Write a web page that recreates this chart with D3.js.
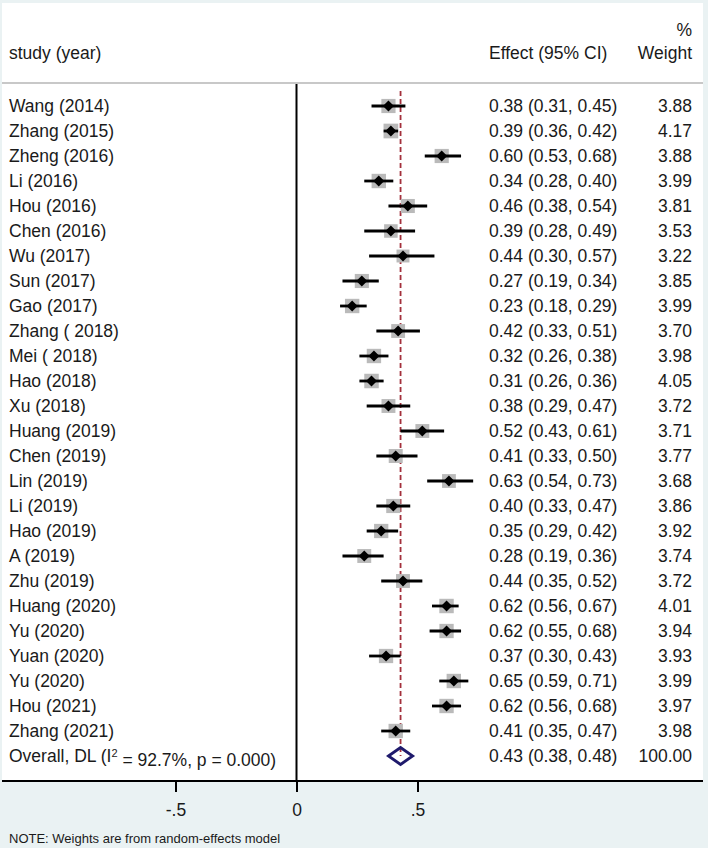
<!DOCTYPE html>
<html lang="en">

<head>
    <meta charset="UTF-8">
    <title>Forest plot</title>
    <script src="https://d3js.org/d3.v7.min.js"></script>
    <style>
        body {
            margin: 0;
            background: #eaf2f3;
        }

        svg text {
            font-family: "Liberation Sans", Arial, sans-serif;
            fill: #1a1a1a;
        }
    </style>
</head>

<body>
    <div id="chart"></div>

    <script>
        // data
        const studies = [
            "Wang (2014)", "Zhang (2015)", "Zheng (2016)", "Li (2016)", "Hou (2016)",
            "Chen (2016)", "Wu (2017)", "Sun (2017)", "Gao (2017)", "Zhang ( 2018)",
            "Mei ( 2018)", "Hao (2018)", "Xu (2018)", "Huang (2019)", "Chen (2019)",
            "Lin (2019)", "Li (2019)", "Hao (2019)", "A (2019)", "Zhu (2019)",
            "Huang (2020)", "Yu (2020)", "Yuan (2020)", "Yu (2020)", "Hou (2021)",
            "Zhang (2021)"
        ];
        const effects = [0.38, 0.39, 0.60, 0.34, 0.46, 0.39, 0.44, 0.27, 0.23, 0.42,
            0.32, 0.31, 0.38, 0.52, 0.41, 0.63, 0.40, 0.35, 0.28, 0.44,
            0.62, 0.62, 0.37, 0.65, 0.62, 0.41];
        const lower = [0.31, 0.36, 0.53, 0.28, 0.38, 0.28, 0.30, 0.19, 0.18, 0.33,
            0.26, 0.26, 0.29, 0.43, 0.33, 0.54, 0.33, 0.29, 0.19, 0.35,
            0.56, 0.55, 0.30, 0.59, 0.56, 0.35];
        const upper = [0.45, 0.42, 0.68, 0.40, 0.54, 0.49, 0.57, 0.34, 0.29, 0.51,
            0.38, 0.36, 0.47, 0.61, 0.50, 0.73, 0.47, 0.42, 0.36, 0.52,
            0.67, 0.68, 0.43, 0.71, 0.68, 0.47];
        const weights = [3.88, 4.17, 3.88, 3.99, 3.81, 3.53, 3.22, 3.85, 3.99, 3.70,
            3.98, 4.05, 3.72, 3.71, 3.77, 3.68, 3.86, 3.92, 3.74, 3.72,
            4.01, 3.94, 3.93, 3.99, 3.97, 3.98];
        const overall = { effect: 0.43, lower: 0.38, upper: 0.48, weight: 100.00, i2: "92.7%", p: "0.000" };
        const tickValues = [-0.5, 0, 0.5];
        const tickLabels = ["-.5", "0", ".5"];

        const W = 708, H = 848;
        const fs = 17.5;
        const panel = { left: 2, top: 3, right: 703, bottom: 781 };
        const colEffect = 489, colWeight = 692;

        const svg = d3.select("#chart").append("svg")
            .attr("width", W)
            .attr("height", H);

        svg.append("rect")
            .attr("width", W).attr("height", H)
            .attr("fill", "#eaf2f3");

        svg.append("rect")
            .attr("x", panel.left).attr("y", panel.top)
            .attr("width", panel.right - panel.left)
            .attr("height", panel.bottom - panel.top)
            .attr("fill", "#fff");

        // scales
        const x = d3.scaleLinear().domain([0, 0.5]).range([296.5, 417.5]);
        const y = d3.scaleLinear().domain([0, studies.length]).range([106, 756]);
        const boxSide = d3.scaleSqrt().domain([0, 4]).range([0, 14.4]);

        // header
        svg.append("line")
            .attr("x1", panel.left).attr("x2", panel.right)
            .attr("y1", 83).attr("y2", 83)
            .attr("stroke", "#c8c8c8").attr("stroke-width", 2);

        svg.append("text").attr("x", 9).attr("y", 59).style("font-size", fs + "px").text("study (year)");
        svg.append("text").attr("x", colEffect).attr("y", 59).style("font-size", fs + "px").text("Effect (95% CI)");
        svg.append("text").attr("x", colWeight).attr("y", 36).attr("text-anchor", "end").style("font-size", fs + "px").text("%");
        svg.append("text").attr("x", colWeight).attr("y", 59).attr("text-anchor", "end").style("font-size", fs + "px").text("Weight");

        // null line
        svg.append("line")
            .attr("x1", x(0)).attr("x2", x(0))
            .attr("y1", 84).attr("y2", panel.bottom)
            .attr("stroke", "#000").attr("stroke-width", 2);

        // overall effect dashed line
        svg.append("line")
            .attr("x1", x(overall.effect)).attr("x2", x(overall.effect))
            .attr("y1", y(0) - 15).attr("y2", y(studies.length))
            .attr("stroke", "#a3303c").attr("stroke-width", 1.8)
            .attr("stroke-dasharray", "5,3");

        const rows = studies.map((s, i) => ({
            study: s, effect: effects[i], lower: lower[i], upper: upper[i], weight: weights[i], i
        }));

        const g = svg.append("g");
        const row = g.selectAll(".row").data(rows).join("g")
            .attr("class", "row")
            .attr("transform", d => `translate(0,${y(d.i)})`);

        row.append("rect")
            .attr("x", d => x(d.effect) - boxSide(d.weight) / 2)
            .attr("y", d => -boxSide(d.weight) / 2)
            .attr("width", d => boxSide(d.weight))
            .attr("height", d => boxSide(d.weight))
            .attr("fill", "#bababa");

        row.append("line")
            .attr("x1", d => x(d.lower)).attr("x2", d => x(d.upper))
            .attr("stroke", "#000").attr("stroke-width", 2.8);

        row.append("path")
            .attr("d", d => {
                const cx = x(d.effect), r = 5.5;
                return `M${cx - r},0L${cx},${-r}L${cx + r},0L${cx},${r}Z`;
            })
            .attr("fill", "#000");

        const f2 = d3.format(".2f");

        row.append("text").attr("x", 9).attr("dy", "0.36em")
            .style("font-size", fs + "px").text(d => d.study);
        row.append("text").attr("x", colEffect).attr("dy", "0.36em")
            .style("font-size", fs + "px")
            .text(d => `${f2(d.effect)} (${f2(d.lower)}, ${f2(d.upper)})`);
        row.append("text").attr("x", colWeight).attr("dy", "0.36em")
            .attr("text-anchor", "end")
            .style("font-size", fs + "px").text(d => f2(d.weight));

        // overall row
        const yo = y(studies.length);
        svg.append("path")
            .attr("d", `M${x(overall.lower)},${yo}L${x(overall.effect)},${yo - 8.5}L${x(overall.upper)},${yo}L${x(overall.effect)},${yo + 8.5}Z`)
            .attr("fill", "none")
            .attr("stroke", "#1f1a6c").attr("stroke-width", 2.8);

        const ot = svg.append("text").attr("x", 9).attr("y", yo).attr("dy", "0.36em")
            .style("font-size", fs + "px");
        ot.append("tspan").text("Overall, DL (I");
        ot.append("tspan").attr("dy", "-0.5em").style("font-size", "11px").text("2");
        ot.append("tspan").attr("dy", "0.5em").text(` = ${overall.i2}, p = ${overall.p})`);

        svg.append("text").attr("x", colEffect).attr("y", yo).attr("dy", "0.36em")
            .style("font-size", fs + "px")
            .text(`${f2(overall.effect)} (${f2(overall.lower)}, ${f2(overall.upper)})`);
        svg.append("text").attr("x", colWeight).attr("y", yo).attr("dy", "0.36em")
            .attr("text-anchor", "end")
            .style("font-size", fs + "px").text(f2(overall.weight));

        // x axis
        svg.append("line")
            .attr("x1", panel.left).attr("x2", panel.right)
            .attr("y1", panel.bottom).attr("y2", panel.bottom)
            .attr("stroke", "#000").attr("stroke-width", 2);

        const xAxis = d3.axisBottom(x)
            .tickValues(tickValues)
            .tickFormat((d, i) => tickLabels[i])
            .tickSize(11)
            .tickPadding(12);

        const ax = svg.append("g")
            .attr("transform", `translate(0,${panel.bottom})`)
            .call(xAxis);
        ax.select(".domain").remove();
        ax.selectAll(".tick line").attr("stroke", "#000").attr("stroke-width", 2);
        ax.selectAll(".tick text")
            .attr("fill", "#1a1a1a")
            .style("font-size", fs + "px")
            .style("font-family", "'Liberation Sans', Arial, sans-serif");

        svg.append("text").attr("x", 9).attr("y", 843)
            .style("font-size", "13px")
            .text("NOTE: Weights are from random-effects model");
    </script>
</body>

</html>
